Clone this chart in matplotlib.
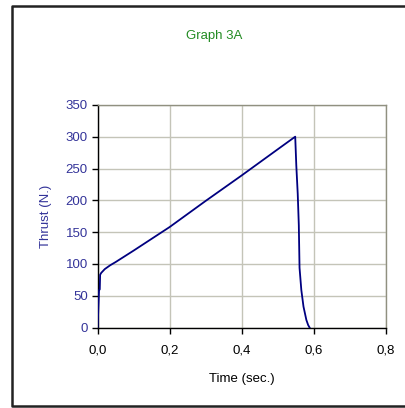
#!/usr/bin/env python3

import matplotlib.pyplot as plt
from matplotlib.lines import Line2D
import numpy as np

plt.rcParams.update({
    "font.family": ["Liberation Sans", "DejaVu Sans"],
    "font.size": 9.5,
})

# Thrust curve
time_s = [0.0, 0.002, 0.004, 0.006, 0.007, 0.010, 0.020, 0.035, 0.050, 0.10,
          0.20, 0.30, 0.40, 0.50, 0.549, 0.552, 0.556, 0.559, 0.561, 0.566,
          0.572, 0.580, 0.585, 0.589]
thrust_n = [0, 30, 59, 60, 83, 86, 92, 98, 103, 121,
            158, 199, 239, 280, 300, 255, 210, 161, 94, 59,
            33, 12, 4, 0]

x_ticks = [0.0, 0.2, 0.4, 0.6, 0.8]
x_labels = ["0,0", "0,2", "0,4", "0,6", "0,8"]
y_ticks = [0, 50, 100, 150, 200, 250, 300, 350]

blue_txt = "#333399"
grid_col = "#c4c4b8"

fig = plt.figure(figsize=(4.05, 4.08), dpi=100)
ax = fig.add_axes([0.241, 0.197, 0.711, 0.546])

ax.plot(time_s, thrust_n, color="#000080", linewidth=1.3, zorder=3)

ax.set_xlim(0, 0.8)
ax.set_ylim(0, 350)
ax.set_xticks(x_ticks)
ax.set_xticklabels(x_labels)
ax.set_yticks(y_ticks)

ax.grid(True, color=grid_col, linewidth=1.0)
ax.set_axisbelow(True)

ax.tick_params(axis="y", colors="black", labelcolor=blue_txt, direction="out", length=4, width=1, pad=3)
ax.tick_params(axis="x", colors="black", labelcolor="black", direction="out", length=4, width=1, pad=8)

for side in ("top", "right"):
    ax.spines[side].set_color("#909080")
    ax.spines[side].set_linewidth(1.0)
for side in ("left", "bottom"):
    ax.spines[side].set_color("black")
    ax.spines[side].set_linewidth(1.0)

ax.set_ylabel("Thrust (N.)", color=blue_txt, labelpad=10)
ax.set_xlabel("Time (sec.)", labelpad=12)

fig.text(0.528, 0.912, "Graph 3A", color="#228B22", ha="center", va="center")

# outer frame (left, top, bottom edges visible)
frame_x = [1.0, 11.5 / 405, 11.5 / 405, 1.0]
frame_y = [1 - 6 / 408, 1 - 6 / 408, 1 - 406 / 408, 1 - 406 / 408]
fig.add_artist(Line2D(frame_x, frame_y, transform=fig.transFigure,
                      color="#222222", linewidth=1.8))

plt.savefig("out.png", dpi=100)
